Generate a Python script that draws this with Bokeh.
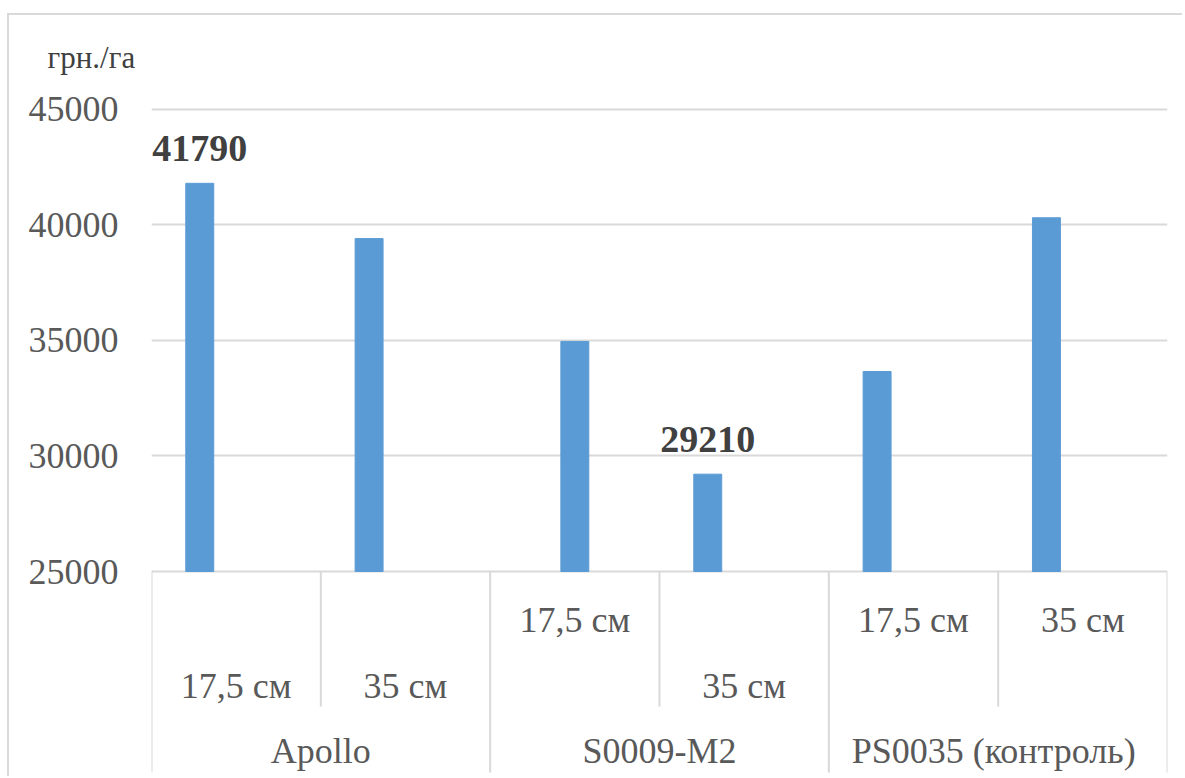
from bokeh.plotting import figure
from bokeh.models import Range1d, FixedTicker, ColumnDataSource, Title
from bokeh.core.properties import value
from bokeh.embed import file_html
from bokeh.resources import INLINE

# ---- data ----
groups = ["Apollo", "S0009-M2", "PS0035  (контроль)"]
spacings = ["17,5 см", "35 см", "17,5 см", "35 см", "17,5 см", "35 см"]
values = [41790, 39400, 34950, 29210, 33650, 40300]
value_labels = ["41790", "", "", "29210", "", ""]
y_ticks = [25000, 30000, 35000, 40000, 45000]
unit_label = "грн./га"

# ---- layout / style constants ----
FONT = value("Liberation Serif")
GRID = "#d9d9d9"
BAR = "#5b9bd5"
TXT = "#595959"
BASE = 25000
PX_PER_UNIT = 115.6 / 5000.0          # vertical scale in pixels per value unit
AXIS_PIX = 571                         # page pixel row of the value 25000
CANVAS_TOP = 15
FRAME_TOP, FRAME_BOTTOM = 95, 778
bar_offset = [-0.215, -0.215, 0.0, -0.215, -0.215, -0.215]
label_row = [2, 2, 1, 2, 1, 1]         # row of each spacing label in the axis area


def y_at(pix):
    return BASE + (AXIS_PIX - pix) / PX_PER_UNIT


n = len(values)
title = Title(text=unit_label, align="left", offset=-104, standoff=42,
              text_font="Liberation Serif", text_font_style="normal",
              text_font_size="31px", text_color="#404040")
p = figure(width=1175, height=FRAME_BOTTOM - CANVAS_TOP, x_range=Range1d(0, n),
           y_range=Range1d(y_at(FRAME_BOTTOM), y_at(FRAME_TOP)),
           x_axis_type=None, output_backend="svg", toolbar_location=None,
           min_border_left=142, min_border_right=17,
           min_border_top=FRAME_TOP - CANVAS_TOP, min_border_bottom=0,
           title=title)
p.styles = {"margin-top": "13px", "margin-left": "7px",
            "border-top": "2px solid #d9d9d9",
            "border-left": "2px solid #d9d9d9"}
p.outline_line_color = None
p.background_fill_color = "white"

# y axis
p.yaxis.ticker = FixedTicker(ticks=y_ticks)
p.ygrid.ticker = FixedTicker(ticks=y_ticks)
p.ygrid.grid_line_color = GRID
p.ygrid.grid_line_width = 2
p.xgrid.visible = False
p.yaxis.axis_line_color = None
p.yaxis.major_tick_line_color = None
p.yaxis.minor_tick_line_color = None
p.yaxis.major_tick_out = 0
p.yaxis.major_label_standoff = 33
p.yaxis.major_label_text_font = "Liberation Serif"
p.yaxis.major_label_text_font_size = "36px"
p.yaxis.major_label_text_color = TXT

# bars
xs = [i + 0.5 + bar_offset[i] for i in range(n)]
src = ColumnDataSource(dict(x=xs, top=values, lab=value_labels))
p.vbar(x="x", top="top", bottom=BASE, width=0.165, source=src,
       fill_color=BAR, line_color=BAR)
p.text(x="x", y="top", text="lab", source=src, text_font=FONT,
       text_font_size="38px", text_font_style="bold", text_color="#404040",
       text_align="center", text_baseline="alphabetic", y_offset=-35)

# category axis area: separators
sub_bottom = y_at(706)
grp_bottom = y_at(772)
x0, x1, y0, y1 = [], [], [], []
for k in range(n + 1):
    x0.append(k); x1.append(k); y0.append(BASE)
    y1.append(grp_bottom if k % 2 == 0 else sub_bottom)
p.segment(x0=x0, y0=y0, x1=x1, y1=y1, line_color=GRID, line_width=2)

# spacing labels
row_y = {1: y_at(619), 2: y_at(685)}
p.text(x=[i + 0.5 for i in range(n)], y=[row_y[r] for r in label_row],
       text=spacings, text_font=FONT, text_font_size="36px", text_color=TXT,
       text_align="center", text_baseline="middle")

# group labels
p.text(x=[2 * g + 1 for g in range(len(groups))], y=[y_at(750)] * len(groups),
       text=groups, text_font=FONT, text_font_size="36px", text_color=TXT,
       text_align="center", text_baseline="middle")

open("out.html", "w").write(file_html(p, INLINE))
